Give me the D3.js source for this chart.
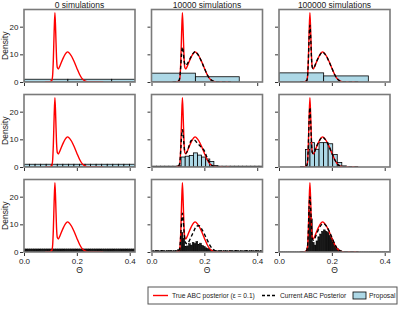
<!DOCTYPE html>
<html>
<head>
<meta charset="utf-8">
<script src="https://cdn.jsdelivr.net/npm/d3@7"></script>
<style>
  body { margin: 0; background: #fff; }
  svg { display: block; font-family: "Liberation Sans", Arial, sans-serif; }
</style>
</head>
<body>
<svg id="chart" width="399" height="309"></svg>
<script>
// column / row headers
var colTitles = ["0 simulations", "10000 simulations", "100000 simulations"];
var xTicks = [0.0, 0.2, 0.4];
var yTicks = [0, 10, 20];

// theta grid shared by the density curves
var theta = [0.08, 0.095, 0.105, 0.108, 0.111, 0.114, 0.117, 0.12, 0.123, 0.126, 0.13, 0.135, 0.14,
             0.15, 0.16, 0.165, 0.17, 0.18, 0.19, 0.2, 0.21, 0.22, 0.23, 0.24, 0.25, 0.27, 0.3];

// true ABC posterior (same in every panel)
var trueDens = [0, 0.05, 0.5, 2, 8, 18, 25, 18, 9, 5.2, 4.7, 5.6, 6.8,
                9, 10.6, 10.9, 10.6, 9.3, 7.3, 5, 2.8, 1.2, 0.4, 0.1, 0.02, 0, 0];

// current ABC posterior, per row for columns 2 and 3 (none in column 1)
var curR1C2 = [0, 0.1, 0.8, 2.5, 6, 10.5, 12.6, 11, 8, 6.5, 6, 6.5, 7.3, 9.2, 10.6, 11, 10.6, 9.3, 7.2, 5, 2.8, 1.2, 0.5, 0.15, 0.05, 0, 0];
var curR1C3 = [0, 0.05, 0.5, 2, 7.5, 16, 20.5, 16, 8.5, 5.4, 4.9, 5.7, 6.9, 9, 10.5, 10.8, 10.5, 9.2, 7.2, 5, 2.8, 1.2, 0.4, 0.1, 0.02, 0, 0];
var curR2C2 = [0, 0.1, 0.8, 2.5, 6.5, 11.5, 13.5, 11.5, 8, 5.5, 5, 5.6, 7, 9.5, 9.8, 9.6, 9, 8, 7, 5.8, 3.5, 1.5, 0.5, 0.15, 0.05, 0, 0];
var curR2C3 = [0, 0.05, 0.5, 2, 7.5, 17, 21.5, 16, 8.5, 5.3, 4.8, 5.6, 6.9, 9, 10.5, 10.8, 10.5, 9.2, 7.3, 5, 2.8, 1.2, 0.4, 0.1, 0.02, 0, 0];
var curR3C2 = [0, 0.1, 0.8, 2.5, 6.5, 11.5, 14, 11.5, 7.5, 4.5, 3.2, 3, 3.5, 5.5, 7.5, 8.6, 9.4, 9.5, 8.3, 6.5, 4.5, 2.6, 1.2, 0.5, 0.15, 0, 0];
var curR3C3 = [0, 0.05, 0.5, 2, 7.5, 16.5, 20, 15.5, 8.5, 5, 4.2, 4.8, 6, 8.2, 9.8, 10.2, 10.2, 9.2, 7.5, 5.3, 3, 1.3, 0.5, 0.15, 0.05, 0, 0];

// proposal histograms: first bin edge, bin width, bin heights
var propR1C1 = { lo: 0, w: 0.166, h: [1, 1, 1] };
var propR1C2 = { lo: 0, w: 0.166, h: [3.2, 1.9] };
var propR1C3 = { lo: 0, w: 0.169, h: [3.3, 2.2] };
var propR2C1 = { lo: 0, w: 0.021, h: [1, 1, 1, 1, 1, 1, 1, 1, 1, 1, 1, 1, 1, 1, 1, 1, 1, 1, 1, 1] };
var propR2C2 = { lo: 0.0035, w: 0.0155, h: [0.3, 0.3, 0.3, 0.3, 0.3, 0.3, 0.4, 3.6, 3.9, 4.2, 5.1, 4.3, 3.6, 2.9, 2.0,
                                             0.5, 0.3, 0.3, 0.3, 0.3, 0.3, 0.3, 0.3, 0.3, 0.3, 0.3, 0.3] };
var propR2C3 = { lo: 0.0828, w: 0.0172, h: [0.15, 6.3, 8.8, 6.4, 8.8, 8.8, 8.4, 4.5, 1.6, 0.4] };
var propR3C1 = { lo: 0, w: 0.007, h: [1.1, 1.1, 1.1, 1.1, 1.1, 1.1, 1.1, 1.1, 1.1, 1.1, 1.1, 1.1, 1.1, 1.1, 1.1,
                                      1.1, 1.1, 1.1, 1.1, 1.1, 1.1, 1.1, 1.1, 1.1, 1.1, 1.1, 1.1, 1.1, 1.1, 1.1,
                                      1.1, 1.1, 1.1, 1.1, 1.1, 1.1, 1.1, 1.1, 1.1, 1.1, 1.1, 1.1, 1.1, 1.1, 1.1,
                                      1.1, 1.1, 1.1, 1.1, 1.1, 1.1, 1.1, 1.1, 1.1, 1.1, 1.1, 1.1, 1.1, 1.1, 1.1] };
var propR3C2 = { lo: 0, w: 0.007, h: [0.5, 0.4, 0.6, 0.5, 0.4, 0.5, 0.6, 0.4, 0.5, 0.5, 0.6, 0.4, 0.5, 0.6, 0.8,
                                      1.6, 7.0, 5.0, 2.0, 2.2, 3.0, 2.5, 3.5, 3.0, 3.8, 2.8, 3.2, 2.4, 2.0, 1.5,
                                      1.2, 0.9, 0.7, 0.6, 0.5, 0.4, 0.5, 0.6, 0.4, 0.5, 0.5, 0.4, 0.6, 0.5, 0.4,
                                      0.5, 0.6, 0.4, 0.5, 0.4, 0.5, 0.6, 0.4, 0.5, 0.5, 0.4, 0.6, 0.5, 0.4, 0.5] };
var propR3C3 = { lo: 0, w: 0.007, h: [0.05, 0.05, 0.05, 0.05, 0.05, 0.05, 0.05, 0.05, 0.05, 0.05, 0.05, 0.05, 0.05, 0.05, 0.3,
                                      1.5, 15, 12, 3.5, 2.5, 4, 5.5, 6.5, 7.5, 8, 7.5, 7, 6, 5, 3.5,
                                      2.2, 1.3, 0.7, 0.4, 0.2, 0.05, 0.05, 0.05, 0.05, 0.05, 0.05, 0.05, 0.05, 0.05, 0.05,
                                      0.05, 0.05, 0.05, 0.05, 0.05, 0.05, 0.05, 0.05, 0.05, 0.05, 0.05, 0.05, 0.05, 0.05, 0.05] };

var proposals = [[propR1C1, propR1C2, propR1C3], [propR2C1, propR2C2, propR2C3], [propR3C1, propR3C2, propR3C3]];
var currents = [[null, curR1C2, curR1C3], [null, curR2C2, curR2C3], [null, curR3C2, curR3C3]];

// layout
var svg = d3.select("#chart");
var colX = [24, 151.5, 279];
var rowY = [9.5, 94.5, 179.5];
var pw = 111, ph = 72.5;
var frameCol = "#7a7a7a";

var x = d3.scaleLinear().domain([0, 0.42]).range([0, pw]);
var y = d3.scaleLinear().domain([0, 26.2]).range([ph, 0]);
var line = d3.line()
    .x(function(d) { return x(d[0]); })
    .y(function(d) { return y(d[1]); })
    .curve(d3.curveMonotoneX);

for (var r = 0; r < 3; r++) {
  for (var c = 0; c < 3; c++) {
    var g = svg.append("g").attr("transform", "translate(" + colX[c] + "," + rowY[r] + ")");
    var cid = "clip" + r + c;
    g.append("clipPath").attr("id", cid)
      .append("rect").attr("width", pw).attr("height", ph);
    var inner = g.append("g").attr("clip-path", "url(#" + cid + ")");

    // proposal histogram (very narrow bins come out nearly solid black)
    var p = proposals[r][c];
    var bw = x(p.w) - x(0);
    inner.selectAll("rect.bar").data(p.h).enter().append("rect")
      .attr("class", "bar")
      .attr("x", function(d, i) { return x(p.lo + i * p.w); })
      .attr("width", bw)
      .attr("y", function(d) { return y(d); })
      .attr("height", function(d) { return y(0) - y(d); })
      .attr("fill", bw < 3 ? "#1a1a1a" : "#add8e6")
      .attr("stroke", "#000")
      .attr("stroke-width", bw < 3 ? 0.5 : 0.8);

    // true posterior
    inner.append("path")
      .datum(d3.zip(theta, trueDens))
      .attr("d", line)
      .attr("fill", "none")
      .attr("stroke", "#ff0000")
      .attr("stroke-width", 1.4);

    // current posterior
    if (currents[r][c]) {
      inner.append("path")
        .datum(d3.zip(theta, currents[r][c]))
        .attr("d", line)
        .attr("fill", "none")
        .attr("stroke", "#000")
        .attr("stroke-width", 1.4)
        .attr("stroke-dasharray", "3.5,2.5");
    }

    // axes
    var xa = g.append("g").attr("transform", "translate(0," + (ph + 1) + ")")
      .call(d3.axisBottom(x).tickValues(xTicks).tickSize(3).tickPadding(2)
        .tickFormat(r == 2 ? d3.format(".1f") : function() { return ""; }));
    var ya = g.append("g").attr("transform", "translate(-1,0)")
      .call(d3.axisLeft(y).tickValues(yTicks).tickSize(3).tickPadding(1.5)
        .tickFormat(c == 0 ? d3.format("d") : function() { return ""; }));
    [xa, ya].forEach(function(a) {
      a.select(".domain").remove();
      a.selectAll("line").attr("stroke", "#333");
      a.selectAll("text").attr("font-size", 8).attr("fill", "#222")
        .attr("font-family", "Liberation Sans, Arial, sans-serif");
    });

    // frame
    g.append("rect").attr("width", pw).attr("height", ph)
      .attr("fill", "none").attr("stroke", frameCol).attr("stroke-width", 1.6);

    if (r == 0) {
      g.append("text").attr("x", pw / 2).attr("y", -2)
        .attr("text-anchor", "middle").attr("font-size", 8.5).attr("fill", "#222")
        .text(colTitles[c]);
    }
    if (c == 0) {
      g.append("text")
        .attr("transform", "translate(-16," + (ph / 2) + ") rotate(-90)")
        .attr("text-anchor", "middle").attr("font-size", 8.5).attr("fill", "#222")
        .text("Density");
    }
    if (r == 2) {
      g.append("text").attr("x", pw / 2).attr("y", ph + 20.5)
        .attr("text-anchor", "middle").attr("font-size", 8.5).attr("fill", "#222")
        .text("Θ");
    }
  }
}

// legend
var leg = svg.append("g");
leg.append("rect").attr("x", 148).attr("y", 287).attr("width", 249).attr("height", 17)
  .attr("fill", "#fff").attr("stroke", "#555").attr("stroke-width", 1);
var ly = 295.5;
var lfs = 6.7;
leg.append("line").attr("x1", 153).attr("x2", 168).attr("y1", ly).attr("y2", ly)
  .attr("stroke", "#ff0000").attr("stroke-width", 1.4);
leg.append("text").attr("x", 172).attr("y", ly + 2.4).attr("font-size", lfs).attr("fill", "#222")
  .text("True ABC posterior (ε = 0.1)");
leg.append("line").attr("x1", 262).attr("x2", 276).attr("y1", ly).attr("y2", ly)
  .attr("stroke", "#000").attr("stroke-width", 1.4).attr("stroke-dasharray", "3,2");
leg.append("text").attr("x", 280).attr("y", ly + 2.4).attr("font-size", lfs).attr("fill", "#222")
  .text("Current ABC Posterior");
leg.append("rect").attr("x", 353).attr("y", ly - 3.5).attr("width", 13).attr("height", 7)
  .attr("fill", "#add8e6").attr("stroke", "#000").attr("stroke-width", 0.8);
leg.append("text").attr("x", 369).attr("y", ly + 2.4).attr("font-size", lfs).attr("fill", "#222")
  .text("Proposal");
</script>
</body>
</html>
